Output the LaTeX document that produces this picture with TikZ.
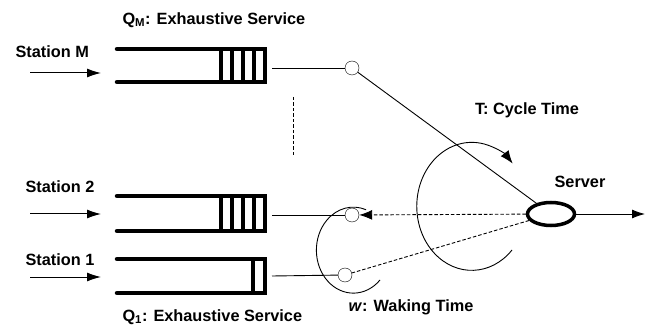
\documentclass[tikz,border=0pt]{standalone}
\usepackage{fontspec}
\setmainfont{Liberation Sans}
\usetikzlibrary{shapes.geometric,arrows.meta}

\begin{document}
\begin{tikzpicture}[x=1pt,y=-1pt,font=\fontsize{16.3}{19}\selectfont\bfseries,
  qline/.style={line width=4.5pt,line cap=round,line join=miter},
  qbar/.style={line width=4pt},
  port/.style={draw,circle,fill=white,minimum size=14pt,inner sep=0pt,thin},
  wire/.style={line width=0.9pt},
  dwire/.style={line width=0.9pt,dash pattern=on 3.5pt off 2pt},
  inarrow/.style={line width=1pt,-{Latex[length=14pt,width=9pt]}}]
\useasboundingbox (0,0) rectangle (646,326);

\node[anchor=west] (labQM) at (119,20) {Q\textsubscript{M}: Exhaustive Service};
\node[anchor=west] (labQ1) at (119,317) {Q\textsubscript{1}: Exhaustive Service};
\node[anchor=west] (stM) at (12,52) {Station M};
\node[anchor=west] (st2) at (22,187) {Station 2};
\node[anchor=west] (st1) at (22,260) {Station 1};

\coordinate (inM) at (30,73);
\coordinate (qM) at (101,73);
\coordinate (in2) at (30,214);
\coordinate (q2) at (101,214);
\coordinate (in1) at (30,277);
\coordinate (q1) at (101,277);
\draw[inarrow] (inM) -- (qM);
\draw[inarrow] (in2) -- (q2);
\draw[inarrow] (in1) -- (q1);

\draw[qline] (117,49) -- (265,49) -- (265,82) -- (117,82);
\draw[qline] (117,196) -- (265,196) -- (265,231) -- (117,231);
\draw[qline] (117,259) -- (265,259) -- (265,293) -- (117,293);
\foreach \x in {221,232,243,254}
\draw[qbar] (\x,49) -- (\x,82);
\foreach \x in {221,232,243,254}
\draw[qbar] (\x,196) -- (\x,231);
\draw[qbar] (253,259) -- (253,293);

\draw[dwire] (293,97) -- (293,155);

\node[port] (cM) at (352,68) {};
\node[port] (c2) at (352,215) {};
\node[port] (c1) at (345,275) {};
\coordinate (oM) at (272,68);
\coordinate (o2) at (272,215);
\coordinate (o1) at (272,276);
\draw[wire] (oM) -- (cM);
\draw[wire] (o2) -- (c2);
\draw[wire] (o1) -- (c1);

\node[draw,ellipse,line width=3.5pt,minimum width=47pt,minimum height=23pt] (srv) at (551,214) {};
\node (labsrv) at (580,182) {Server};
\coordinate (out) at (645,214);
\draw[wire,-{Latex[length=13pt,width=9pt]}] (srv) -- (out);

\draw[wire] (cM) -- (srv);
\draw[dwire,-{Latex[length=13pt,width=10pt]}] (srv) -- (c2);
\draw[dwire] (srv) -- (c1);

\draw[wire,-{Latex[length=13pt,width=10pt]}] (512,250) arc[start angle=43,end angle=318,x radius=55,y radius=64];
\draw[wire] (380,280) arc[start angle=44,end angle=290,x radius=37,y radius=43];

\node (labT) at (527,110) {T: Cycle Time};
\node (labw) at (411,307) {\textit{w}: Waking Time};
\end{tikzpicture}
\end{document}
